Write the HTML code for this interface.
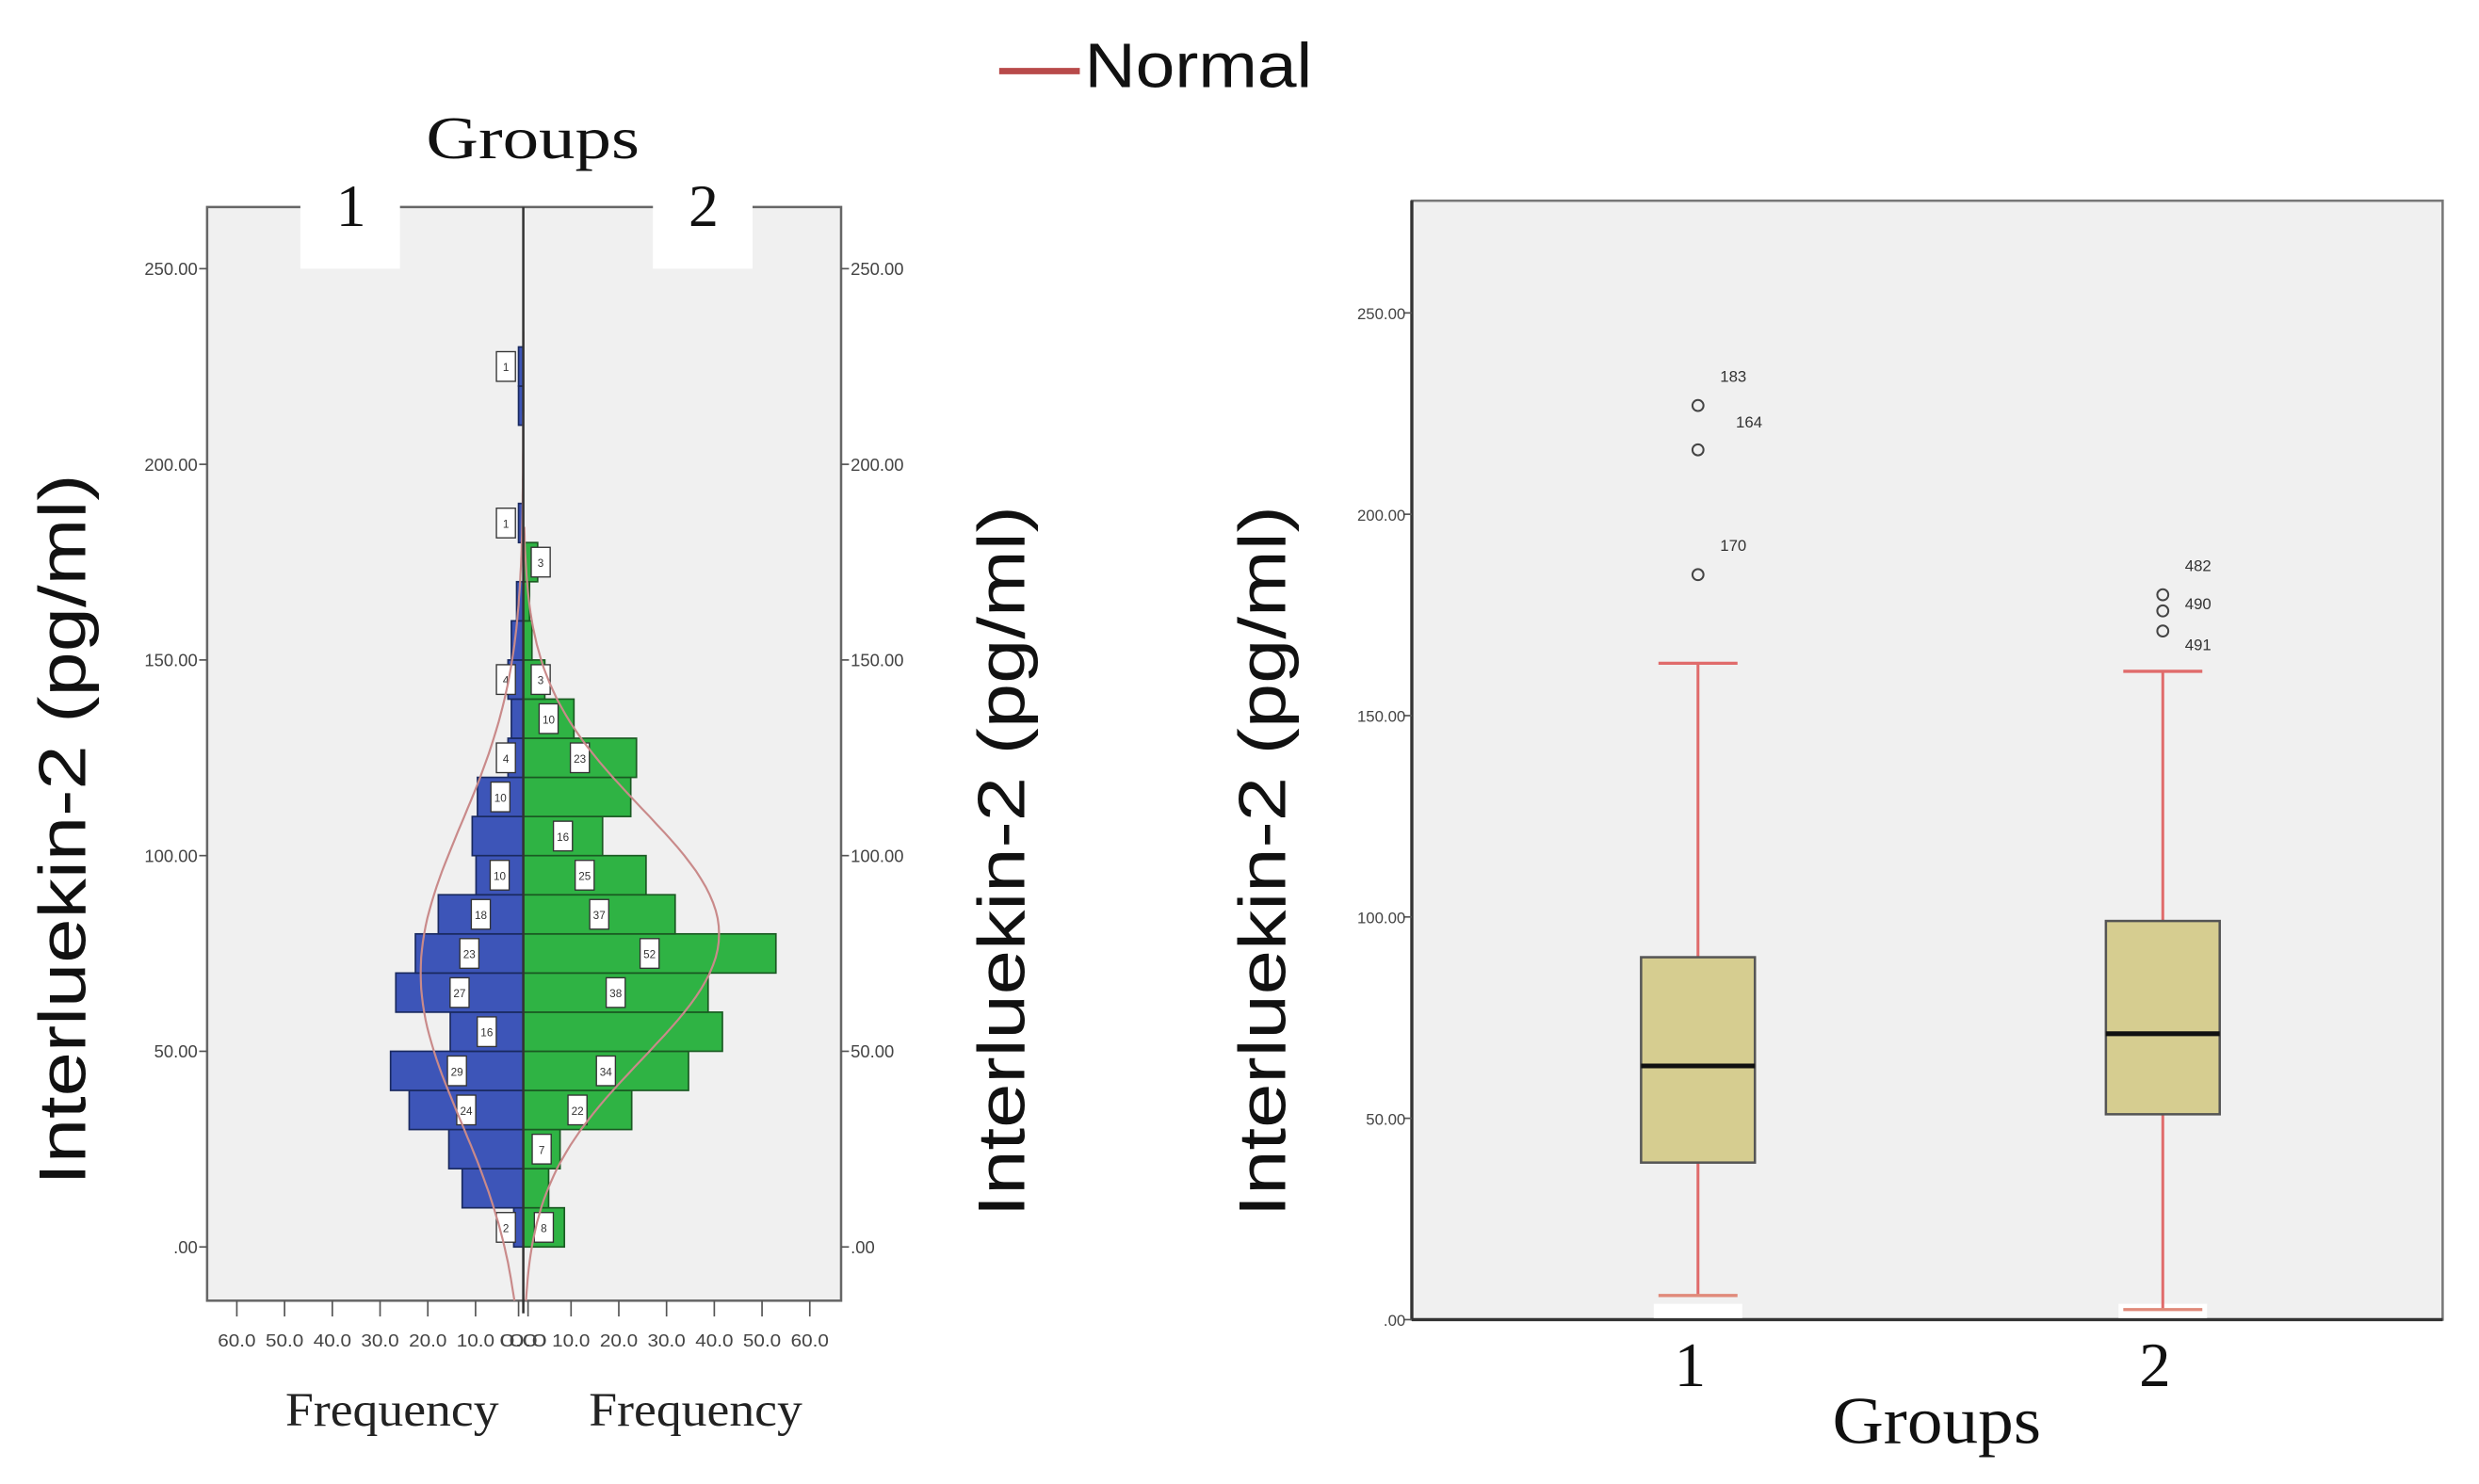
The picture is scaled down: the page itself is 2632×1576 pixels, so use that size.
<!DOCTYPE html>
<html><head><meta charset="utf-8"><style>
html,body{margin:0;padding:0;background:#fff;}
svg{display:block;}
</style></head><body>
<svg id="root" xmlns="http://www.w3.org/2000/svg" width="2632" height="1576" viewBox="0 0 1568 939" preserveAspectRatio="none">
<rect x="0" y="0" width="1568" height="939" fill="#fff"/>
<g>
<line x1="632" y1="45" x2="683" y2="45" stroke="#b84a4a" stroke-width="4"/>
<text x="686" y="55" font-family="Liberation Sans, sans-serif" font-size="40" fill="#111" textLength="144" lengthAdjust="spacingAndGlyphs">Normal</text>
</g>
<g id="left"></g>
<g id="right"></g>
</svg>
<script>
// ---------- Histogram data ----------
const binStarts = [0,10,20,30,40,50,60,70,80,90,100,110,120,130,140,150,160,170,180,190,200,210,220];
const group1Freq = [2,12.8,15.6,23.9,27.8,15.3,26.7,22.6,17.8,9.9,10.7,9.6,3.2,2.5,3.2,2.5,1.4,0,1,0,0,1,1];
const group2Freq = [8.6,5.3,7.7,22.7,34.6,41.7,38.7,52.9,31.8,25.7,16.6,22.5,23.7,10.6,4.5,1.8,1.3,3,0,0,0,0,0];
const group1Labels = ["2","","","24","29","16","27","23","18","10","","10","4","","4","","","","1","","","","1"];
const group2Labels = ["8","","7","22","34","","38","52","37","25","16","","23","10","3","","","3","","","","",""];
const yTicks = [0,50,100,150,200,250];
const yTickLabels = [".00","50.00","100.00","150.00","200.00","250.00"];
const freqTicks = [60,50,40,30,20,10,0];
const freqTickLabels = ["60.0","50.0","40.0","30.0","20.0","10.0","0.0"];
const normalMean = [70,80];
const normalSd = [38,32];
const normalPeak = [21.5,41];
// ---------- Box plot data ----------
const boxGroups = ["1","2"];
const boxQ1 = [39,51];
const boxMedian = [63,71];
const boxQ3 = [90,99];
const boxLow = [6,2.5];
const boxHigh = [163,161];
const outlierValues = [[185,216,227],[171,176,180]];
const outlierIds = [["170","164","183"],["491","490","482"]];
const boxYTicks = [0,50,100,150,200,250];
const boxYTickLabels = [".00","50.00","100.00","150.00","200.00","250.00"];

const NS="http://www.w3.org/2000/svg";
function mk(tag,attrs,parent){const e=document.createElementNS(NS,tag);for(const k in attrs)e.setAttribute(k,attrs[k]);parent.appendChild(e);return e;}

// ---------- Left chart ----------
const L=document.getElementById('left');
const PX0=131,PX1=532,PY0=131,PY1=823,CX=331;
const yv=v=>789-v*(619/250);
const fx=f=>f*3.02;
let e;
e=mk('rect',{x:PX0,y:PY0,width:PX1-PX0,height:PY1-PY0,fill:'#f0f0f0',stroke:'#666','stroke-width':1.5},L);


[[190,253,"1",222],[413,476,"2",445]].forEach(t=>{
  e=mk('rect',{x:t[0],y:118,width:t[1]-t[0],height:52,fill:'#fff'},L);
  
  
  e=mk('text',{x:t[3],y:143,'text-anchor':'middle','font-family':'Liberation Serif, serif','font-size':38,fill:'#111'},L);
  e.textContent=t[2];
  
  
});
e=mk('text',{x:337,y:100,'text-anchor':'middle','font-family':'Liberation Serif, serif','font-size':38,fill:'#111',textLength:135,lengthAdjust:'spacingAndGlyphs'},L);
e.textContent='Groups';


const bh=10*(619/250);
binStarts.forEach((b,i)=>{
  const y=yv(b+10);
  if(group1Freq[i]>0){
    e=mk('rect',{x:CX-fx(group1Freq[i]),y:y,width:fx(group1Freq[i]),height:bh,fill:'#3d55b8',stroke:'#1a2a60','stroke-width':1},L);
    
    
  }
  if(group2Freq[i]>0){
    e=mk('rect',{x:CX,y:y,width:fx(group2Freq[i]),height:bh,fill:'#2fb344',stroke:'#1a5a22','stroke-width':1},L);
    
    
  }
});
binStarts.forEach((b,i)=>{
  const y=yv(b+10);
  [[group1Labels[i],group1Freq[i],-1],[group2Labels[i],group2Freq[i],1]].forEach(p=>{
    if(!p[0])return;
    const w=Math.max(fx(p[1]),22);
    const cx=CX+p[2]*w/2;
    e=mk('rect',{x:cx-6,y:y+3,width:12,height:bh-6,fill:'#fff',stroke:'#333','stroke-width':0.8},L);
    
    
    e=mk('text',{x:cx,y:y+bh/2+3,'text-anchor':'middle','font-family':'Liberation Sans, sans-serif','font-size':7,fill:'#333'},L);
    e.textContent=p[0];
    
    
  });
});
[-1,1].forEach((s,g)=>{
  let d='';
  for(let v=-14;v<=(g?185:235);v+=2){
    const f=normalPeak[g]*Math.exp(-Math.pow(v-normalMean[g],2)/(2*normalSd[g]*normalSd[g]));
    const x=CX+s*fx(f),y=Math.min(yv(v),PY1);
    d+=(d?'L':'M')+x.toFixed(1)+' '+y.toFixed(1);
  }
  e=mk('path',{d:d,fill:'none',stroke:'#c98a8a','stroke-width':1.3},L);
  
  
});
e=mk('line',{x1:CX,y1:PY0,x2:CX,y2:PY1+8,stroke:'#333','stroke-width':1.5},L);


yTicks.forEach((v,i)=>{
  const y=yv(v);
  e=mk('line',{x1:PX0-5,y1:y,x2:PX0,y2:y,stroke:'#555','stroke-width':1},L);
  
  
  e=mk('text',{x:PX0-6,y:y+4,'text-anchor':'end','font-family':'Liberation Sans, sans-serif','font-size':11,fill:'#444'},L);
  e.textContent=yTickLabels[i];
  
  
  e=mk('line',{x1:PX1,y1:y,x2:PX1+5,y2:y,stroke:'#555','stroke-width':1},L);
  
  
  e=mk('text',{x:PX1+6,y:y+4,'text-anchor':'start','font-family':'Liberation Sans, sans-serif','font-size':11,fill:'#444'},L);
  e.textContent=yTickLabels[i];
  
  
});
[-1,1].forEach(s=>{
  freqTicks.forEach((f,i)=>{
    const x=CX+s*fx(f)+(f===0?s*3:0);
    e=mk('line',{x1:x,y1:PY1,x2:x,y2:PY1+10,stroke:'#555','stroke-width':1},L);
    
    
    e=mk('text',{x:x,y:PY1+29,'text-anchor':'middle','font-family':'Liberation Sans, sans-serif','font-size':11,fill:'#444',textLength:24,lengthAdjust:'spacingAndGlyphs'},L);
    e.textContent=freqTickLabels[i];
    
    
  });
});
[[248,'left'],[440,'right']].forEach(p=>{
  e=mk('text',{x:p[0],y:902,'text-anchor':'middle','font-family':'Liberation Serif, serif','font-size':30,fill:'#222',textLength:135,lengthAdjust:'spacingAndGlyphs'},L);
  e.textContent='Frequency';
  
  
});
function yTitle(parent,x,y,name){
  const t=mk('text',{x:0,y:0,transform:'translate('+x+','+y+') rotate(-90)','text-anchor':'middle','font-family':'Liberation Sans, sans-serif','font-size':42,fill:'#111',textLength:450,lengthAdjust:'spacingAndGlyphs'},parent);
  t.textContent='Interluekin-2 (pg/ml)';
  
  
}
yTitle(L,54,525,'left-y-axis-title');
yTitle(L,648,545,'right-y-axis-title');

// ---------- Box plot ----------
const R=document.getElementById('right');
const BX0=893,BX1=1545,BY0=127,BY1=835;
const by=v=>835-v*2.548;
const gx=[1074,1368];
e=mk('rect',{x:BX0,y:BY0,width:BX1-BX0,height:BY1-BY0,fill:'#f0f0f0',stroke:'#777','stroke-width':1.5},R);


e=mk('line',{x1:BX0,y1:BY0,x2:BX0,y2:BY1,stroke:'#333','stroke-width':2},R);


e=mk('line',{x1:BX0,y1:BY1,x2:BX1,y2:BY1,stroke:'#333','stroke-width':2},R);


boxYTicks.forEach((v,i)=>{
  const y=by(v);
  e=mk('line',{x1:BX0-5,y1:y,x2:BX0,y2:y,stroke:'#555','stroke-width':1},R);
  
  
  e=mk('text',{x:BX0-4,y:y+4,'text-anchor':'end','font-family':'Liberation Sans, sans-serif','font-size':10,fill:'#444'},R);
  e.textContent=boxYTickLabels[i];
  
  
});
boxGroups.forEach((g,i)=>{
  const x=gx[i],w=72;
  e=mk('rect',{x:x-28,y:BY1-10,width:56,height:9,fill:'#fff'},R);
  
  
  e=mk('line',{x1:x,y1:by(boxLow[i]),x2:x,y2:by(boxHigh[i]),stroke:'#e06b6b','stroke-width':1.8},R);
  
  
  [boxLow[i],boxHigh[i]].forEach((v,k)=>{
    e=mk('line',{x1:x-25,y1:by(v),x2:x+25,y2:by(v),stroke:k?'#e06b6b':'#e08a7a','stroke-width':2},R);
    
    
  });
  e=mk('rect',{x:x-w/2,y:by(boxQ3[i]),width:w,height:by(boxQ1[i])-by(boxQ3[i]),fill:'#d6cd90',stroke:'#555','stroke-width':1.5},R);
  
  
  e=mk('line',{x1:x-w/2,y1:by(boxMedian[i]),x2:x+w/2,y2:by(boxMedian[i]),stroke:'#111','stroke-width':3},R);
  
  
  outlierValues[i].forEach((v,k)=>{
    e=mk('circle',{cx:x,cy:by(v),r:3.5,fill:'none',stroke:'#444','stroke-width':1.2},R);
    
    
    let ly=by(v)-15;
    if(i===0&&k===1)ly=by(v)-14;
    if(i===1)ly=by(v)+[12,-1,-15][k];
    e=mk('text',{x:x+(i===0&&k===1?24:14),y:ly,'text-anchor':'start','font-family':'Liberation Sans, sans-serif','font-size':10,fill:'#333'},R);
    e.textContent=outlierIds[i][k];
    
    
  });
  e=mk('text',{x:x-5,y:877,'text-anchor':'middle','font-family':'Liberation Serif, serif','font-size':40,fill:'#111'},R);
  e.textContent=g;
  
  
});
e=mk('text',{x:1225,y:913,'text-anchor':'middle','font-family':'Liberation Serif, serif','font-size':42,fill:'#111',textLength:132,lengthAdjust:'spacingAndGlyphs'},R);
e.textContent='Groups';


yTitle(R,813,545,'box-y-axis-title');
</script>
</body></html>
